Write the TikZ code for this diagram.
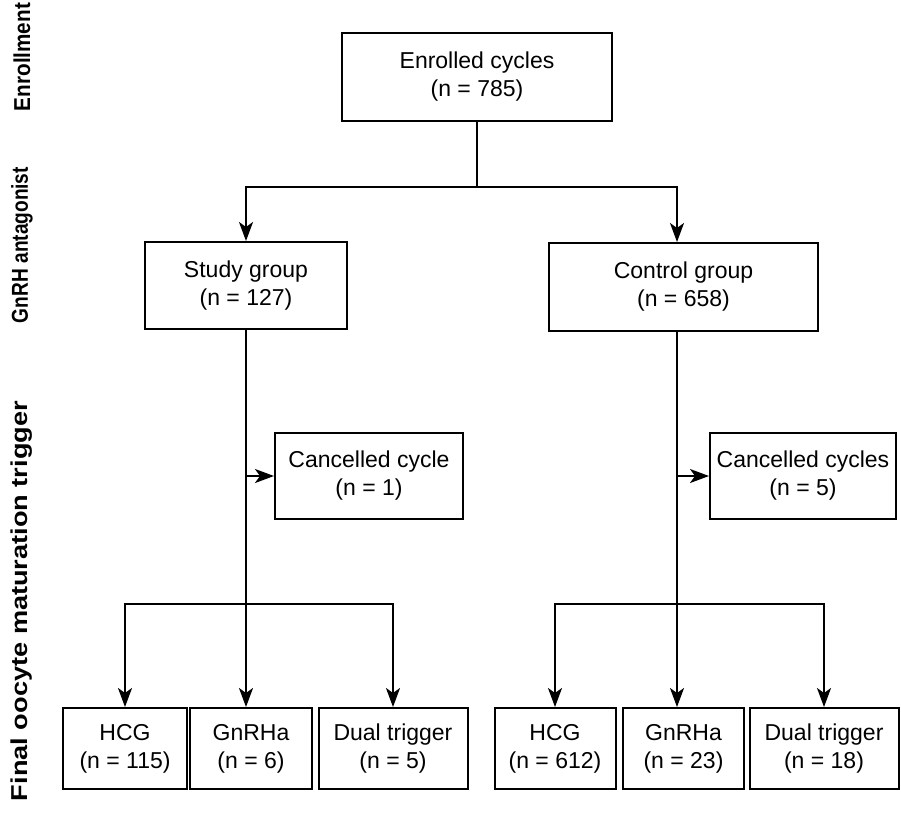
\documentclass[tikz,border=0pt]{standalone}
\usepackage{fontspec}
\usepackage{graphicx}
\setmainfont{Liberation Sans}
\usetikzlibrary{arrows.meta}
\begin{document}
\begin{tikzpicture}[x=1pt,y=-1pt,
  box/.style={draw, line width=2pt, inner sep=0pt, align=center,
    font=\fontsize{23}{28}\selectfont},
  conn/.style={line width=2pt},
  arr/.style={conn, -{Stealth[length=19pt,width=14pt,inset=5pt]}},
  side/.style={rotate=90, inner sep=0pt, font=\bfseries\fontsize{23}{28}\selectfont}]
\useasboundingbox (0,0) rectangle (901,815);
\fill[white] (0,0) rectangle (901,815);

\node[side] (l1) at (22,57) {\resizebox{108pt}{\height}{Enrollment}};
\node[side] (l2) at (22,245) {\resizebox{156pt}{\height}{GnRH antagonist}};
\node[side] (l3) at (22,601) {\resizebox{400pt}{\height}{Final oocyte maturation trigger}};

\node[box, minimum width=270pt, minimum height=88pt] (enr) at (477,77) {Enrolled cycles\\(n = 785)};
\node[box, minimum width=202pt, minimum height=87pt] (study) at (246,285.5) {Study group\\(n = 127)};
\node[box, minimum width=269pt, minimum height=88pt] (ctrl) at (683.5,287) {Control group\\(n = 658)};
\node[box, minimum width=188pt, minimum height=86pt] (can1) at (369,476) {Cancelled cycle\\(n = 1)};
\node[box, minimum width=186pt, minimum height=86pt] (can2) at (803,476) {Cancelled cycles\\(n = 5)};

\node[box, minimum width=124pt, minimum height=81pt] (h1) at (125,748.5) {HCG\\(n = 115)};
\node[box, minimum width=122pt, minimum height=81pt] (g1) at (251,748.5) {GnRHa\\(n = 6)};
\node[box, minimum width=149pt, minimum height=81pt] (d1) at (393,748.5) {Dual trigger\\(n = 5)};
\node[box, minimum width=121pt, minimum height=81pt] (h2) at (555,748.5) {HCG\\(n = 612)};
\node[box, minimum width=121pt, minimum height=81pt] (g2) at (683.5,748.5) {GnRHa\\(n = 23)};
\node[box, minimum width=149pt, minimum height=81pt] (d2) at (824,748.5) {Dual trigger\\(n = 18)};

\coordinate (sp) at (477,187);
\coordinate (cx) at (677,187);
\draw[conn] (enr.south) -- (sp);
\draw[arr] (sp) -- (246,187) -- (study.north);
\draw[arr] (sp) -- (cx) -- (cx |- ctrl.north);

\draw[arr] (study.south) -- (study.south |- g1.north);
\draw[arr] (study.south |- can1.west) -- (can1.west);
\coordinate (b1) at (246,604);
\draw[arr] (b1) -| (h1.north);
\draw[arr] (b1) -| (d1.north);

\draw[arr] (cx |- ctrl.south) -- (cx |- g2.north);
\draw[arr] (cx |- can2.west) -- (can2.west);
\coordinate (b2) at (677,604);
\draw[arr] (b2) -| (h2.north);
\draw[arr] (b2) -| (d2.north);
\end{tikzpicture}
\end{document}
